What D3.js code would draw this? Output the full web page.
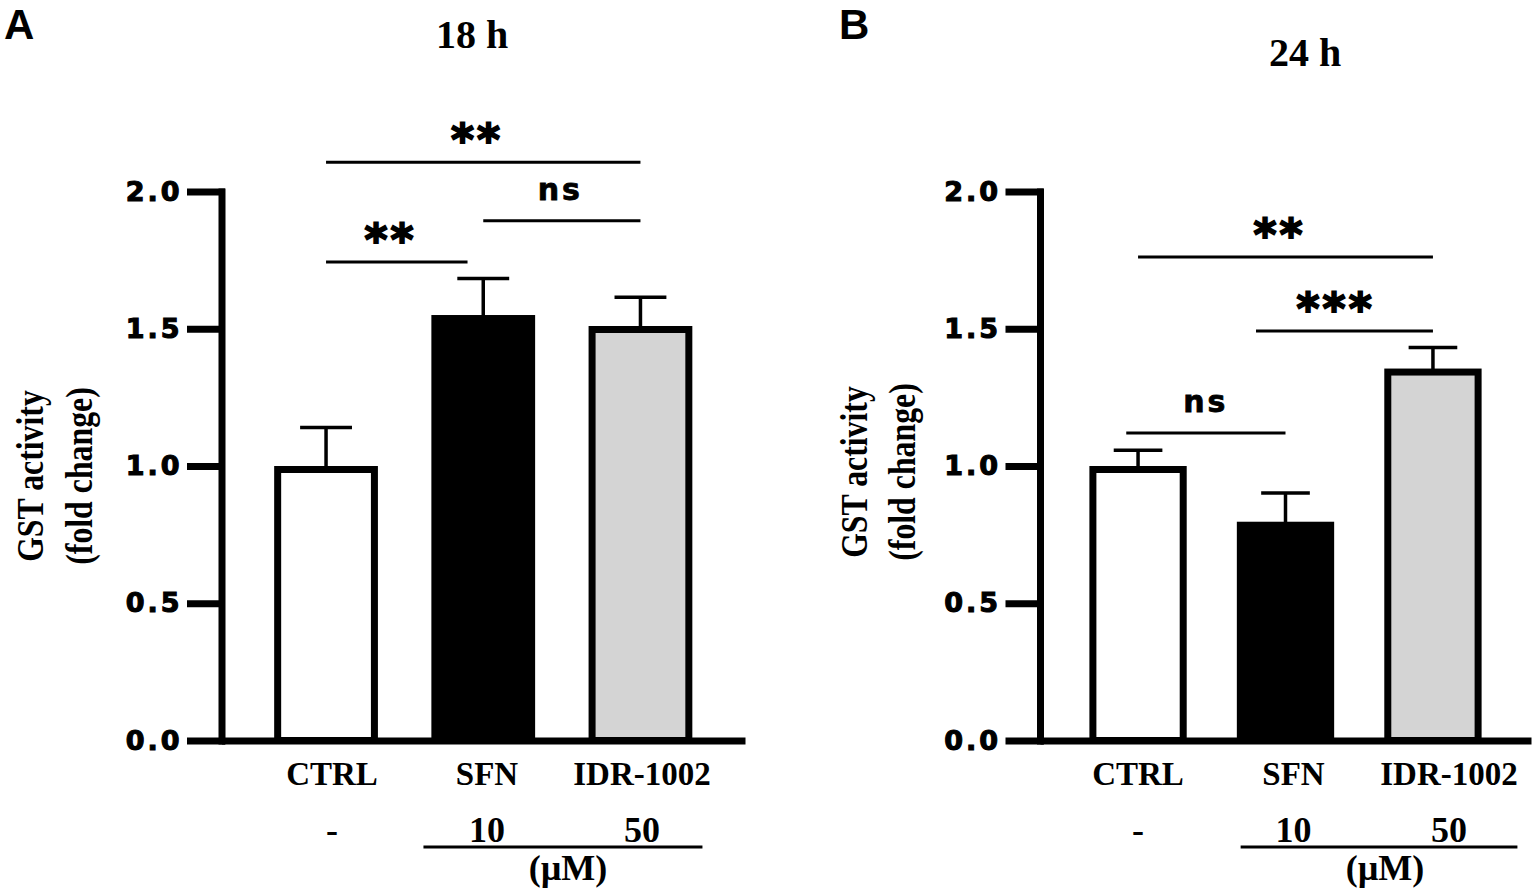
<!DOCTYPE html>
<html>
<head>
<meta charset="utf-8">
<script src="https://cdn.jsdelivr.net/npm/d3@7"></script>
<style>
  body { margin: 0; background: #fff; }
  svg { display: block; }
</style>
</head>
<body>
<div id="chart"></div>
<script>
// data
var categories = ["CTRL", "SFN", "IDR-1002"];
var doses = ["-", "10", "50"];
var fills = ["#ffffff", "#000000", "#d4d4d4"];
var yTicks = [0, 0.5, 1.0, 1.5, 2.0];

var mean18 = [1.00, 1.55, 1.51];
var sem18  = [0.14, 0.133, 0.105];
var mean24 = [1.00, 0.797, 1.355];
var sem24  = [0.057, 0.105, 0.077];

// comparisons: a / b = category index (fractional allowed), y = height in fold change
var sig18 = [
  {a: 0, b: 2,   y: 2.107, label: "**", lx: 0.96},
  {a: 1, b: 2,   y: 1.893, label: "ns", lx: 1.49},
  {a: 0, b: 0.9, y: 1.743, label: "**", lx: 0.41}
];
var sig24 = [
  {a: 0,     b: 2, y: 1.761, label: "**",  lx: 0.96},
  {a: 0.8,   b: 2, y: 1.492, label: "***", lx: 1.34},
  {a: -0.08, b: 1, y: 1.12,  label: "ns",  lx: 0.46}
];

var W = 1535, H = 888;
var svg = d3.select("#chart").append("svg")
  .attr("width", W).attr("height", H);

var panels = [
  {letter: "A", title: "18 h", mean: mean18, sem: sem18, sig: sig18,
   x0: 221.5, x1: 745, lab0: 332, lab2: 642, titleX: 472, titleY: 48, letterX: 4,
   ylab: [43, 92], ylabY: 476, dose: [0.59, 2.39], unitX: 568},
  {letter: "B", title: "24 h", mean: mean24, sem: sem24, sig: sig24,
   x0: 1040, x1: 1531, lab0: 1138, lab2: 1449, titleX: 1305, titleY: 66, letterX: 839,
   ylab: [867, 915], ylabY: 472, dose: [0.66, 2.44], unitX: 1385}
];

var y = d3.scaleLinear().domain([0, 2]).range([740.5, 191.5]);
var serif = "'Liberation Serif', 'Times New Roman', serif";
var sans = "'DejaVu Sans', sans-serif";
var bw = 7;

panels.forEach(function(p) {
  var g = svg.append("g");

  var x = d3.scaleBand().domain(categories).range([p.x0, p.x1])
    .paddingInner(0.34).paddingOuter(0.335);
  // index -> bar centre, for the comparison lines
  var xi = d3.scaleLinear().domain([0, 1])
    .range([x(categories[0]) + x.bandwidth() / 2, x(categories[1]) + x.bandwidth() / 2]);
  var xl = d3.scalePoint().domain(categories).range([p.lab0, p.lab2]);
  var xli = d3.scaleLinear().domain([0, 2]).range([p.lab0, p.lab2]);

  var rows = categories.map(function(c, i) {
    return {cat: c, mean: p.mean[i], sem: p.sem[i], fill: fills[i], dose: doses[i]};
  });

  // error bars (behind bars)
  var eb = g.append("g").selectAll("g").data(rows).enter().append("g");
  eb.append("line")
    .attr("x1", function(d) { return x(d.cat) + x.bandwidth() / 2; })
    .attr("x2", function(d) { return x(d.cat) + x.bandwidth() / 2; })
    .attr("y1", function(d) { return y(d.mean) + 4; })
    .attr("y2", function(d) { return y(d.mean + d.sem); })
    .attr("stroke", "#000").attr("stroke-width", 3.5);
  eb.append("line")
    .attr("x1", function(d) { return x(d.cat) + x.bandwidth() / 4; })
    .attr("x2", function(d) { return x(d.cat) + x.bandwidth() * 3 / 4; })
    .attr("y1", function(d) { return y(d.mean + d.sem); })
    .attr("y2", function(d) { return y(d.mean + d.sem); })
    .attr("stroke", "#000").attr("stroke-width", 3.5);

  // bars
  g.append("g").selectAll("rect").data(rows).enter().append("rect")
    .attr("x", function(d) { return x(d.cat) + bw / 2; })
    .attr("y", function(d) { return y(d.mean) + bw / 2; })
    .attr("width", x.bandwidth() - bw)
    .attr("height", function(d) { return y(0) - y(d.mean) - bw / 2; })
    .attr("fill", function(d) { return d.fill; })
    .attr("stroke", "#000").attr("stroke-width", bw);

  // y axis
  var ya = g.append("g").attr("transform", "translate(" + p.x0 + ",0)")
    .call(d3.axisLeft(y).tickValues(yTicks).tickFormat(d3.format(".1f"))
      .tickSize(31).tickSizeOuter(0).tickPadding(8));
  ya.selectAll("path, line").attr("stroke", "#000").attr("stroke-width", bw)
    .attr("stroke-linecap", "square");
  ya.selectAll("text").attr("fill", "#000")
    .attr("stroke", "#000").attr("stroke-width", 1.1)
    .style("font-family", sans).style("font-weight", "bold")
    .style("font-size", "27px").style("letter-spacing", "3px");

  // x axis line
  var xa = g.append("g").attr("transform", "translate(0," + y(0) + ")")
    .call(d3.axisBottom(x).tickSize(0).tickSizeOuter(0).tickFormat(""));
  xa.select("path").attr("stroke", "#000").attr("stroke-width", bw);

  // category and dose labels
  g.append("g").selectAll("text").data(rows).enter().append("text")
    .attr("x", function(d) { return xl(d.cat); })
    .attr("y", 785)
    .attr("text-anchor", "middle")
    .style("font-family", serif).style("font-weight", "bold").style("font-size", "33px")
    .text(function(d) { return d.cat; });
  g.append("g").selectAll("text").data(rows).enter().append("text")
    .attr("x", function(d) { return xl(d.cat); })
    .attr("y", 842)
    .attr("text-anchor", "middle")
    .style("font-family", serif).style("font-weight", "bold").style("font-size", "36px")
    .text(function(d) { return d.dose; });
  g.append("line")
    .attr("x1", xli(p.dose[0])).attr("x2", xli(p.dose[1]))
    .attr("y1", 847).attr("y2", 847)
    .attr("stroke", "#000").attr("stroke-width", 3);
  g.append("text")
    .attr("x", p.unitX).attr("y", 880).attr("text-anchor", "middle")
    .style("font-family", serif).style("font-weight", "bold").style("font-size", "36px")
    .text("(\u00b5M)");

  // significance brackets
  var sg = g.append("g").selectAll("g").data(p.sig).enter().append("g");
  sg.append("line")
    .attr("x1", function(d) { return xi(d.a); })
    .attr("x2", function(d) { return xi(d.b); })
    .attr("y1", function(d) { return y(d.y); })
    .attr("y2", function(d) { return y(d.y); })
    .attr("stroke", "#000").attr("stroke-width", 3);
  sg.append("text")
    .attr("x", function(d) { return xi(d.lx); })
    .attr("y", function(d) { return y(d.y) - (d.label === "ns" ? 21 : 7); })
    .attr("text-anchor", "middle")
    .attr("stroke", "#000")
    .attr("stroke-width", function(d) { return d.label === "ns" ? 0.8 : 1.8; })
    .style("font-family", sans).style("font-weight", "bold")
    .style("font-size", function(d) { return d.label === "ns" ? "30px" : "44px"; })
    .style("letter-spacing", "3px")
    .text(function(d) { return d.label; });

  // y axis title, two rotated lines (condensed serif)
  var yt = g.append("text")
    .attr("transform", "translate(0," + p.ylabY + ") rotate(-90) scale(0.86,1)")
    .attr("text-anchor", "middle")
    .style("font-family", serif).style("font-weight", "bold").style("font-size", "37px");
  yt.append("tspan").attr("x", 0).attr("y", p.ylab[0]).text("GST activity");
  yt.append("tspan").attr("x", 0).attr("y", p.ylab[1]).text("(fold change)");

  // panel letter and title
  g.append("text")
    .attr("x", p.letterX).attr("y", 39)
    .style("font-family", "'Liberation Sans', Arial, sans-serif").style("font-weight", "bold")
    .style("font-size", "42px")
    .text(p.letter);
  g.append("text")
    .attr("x", p.titleX).attr("y", p.titleY).attr("text-anchor", "middle")
    .style("font-family", serif).style("font-weight", "bold").style("font-size", "40px")
    .text(p.title);
});
</script>
</body>
</html>
